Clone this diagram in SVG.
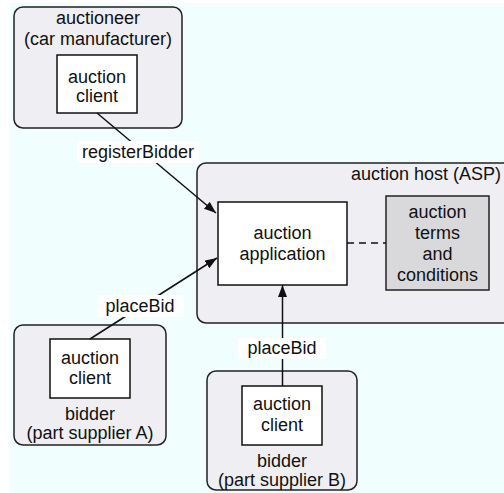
<svg xmlns="http://www.w3.org/2000/svg" width="504" height="493" viewBox="0 0 504 493">
<defs>
<style>
.outer{fill:#efeff3;stroke:#222;stroke-width:1.5}
.inner{fill:#fff;stroke:#111;stroke-width:1.5}
.terms{fill:#d9d9db;stroke:#222;stroke-width:1.5}
text{font-family:"Liberation Sans",Arial,sans-serif;font-size:18px;fill:#111;text-anchor:middle}
.conn{stroke:#111;stroke-width:1.5;fill:none}
.lbl{fill:#fff;stroke:none}
</style>
<marker id="arr" markerUnits="userSpaceOnUse" markerWidth="13" markerHeight="10" refX="12" refY="4.5" orient="auto">
<path d="M0,0 L12,4.5 L0,9 z" fill="#111"/>
</marker>
</defs>
<rect x="10" y="3" width="494" height="490" fill="#f0fefe"/>

<g id="auctioneer">
<rect class="outer" x="14" y="7" width="168" height="121" rx="9"/>
<text x="98" y="24">auctioneer</text>
<text x="98" y="45">(car manufacturer)</text>
<rect class="inner" x="57" y="55" width="80" height="58"/>
<text x="97" y="83">auction</text>
<text x="97" y="102">client</text>
</g>

<g id="host">
<rect class="outer" x="197" y="163" width="330" height="160" rx="9"/>
<text x="501" y="180" style="text-anchor:end">auction host (ASP)</text>
</g>

<g id="application">
<rect class="inner" x="218" y="202" width="129" height="83"/>
<text x="282.5" y="239">auction</text>
<text x="282.5" y="260">application</text>
</g>

<g id="terms">
<rect class="terms" x="386" y="196" width="103" height="94"/>
<text x="437.5" y="218">auction</text>
<text x="437.5" y="239">terms</text>
<text x="437.5" y="260">and</text>
<text x="437.5" y="281">conditions</text>
</g>

<g id="bidderA">
<rect class="outer" x="14" y="325" width="152" height="120" rx="9"/>
<rect class="inner" x="50" y="339" width="80" height="59"/>
<text x="90" y="364">auction</text>
<text x="90" y="384">client</text>
<text x="90" y="420">bidder</text>
<text x="90" y="439">(part supplier A)</text>
</g>

<g id="bidderB">
<rect class="outer" x="207" y="371" width="150" height="119" rx="9"/>
<rect class="inner" x="242" y="386" width="80" height="59"/>
<text x="282" y="410">auction</text>
<text x="282" y="431">client</text>
<text x="282" y="467">bidder</text>
<text x="282" y="486">(part supplier B)</text>
</g>

<g id="connectors">
<line class="conn" x1="97" y1="113" x2="216" y2="213" marker-end="url(#arr)"/>
<line class="conn" x1="90" y1="339" x2="217" y2="258" marker-end="url(#arr)"/>
<line class="conn" x1="282.5" y1="386" x2="282.5" y2="285" marker-end="url(#arr)"/>
<line class="conn" x1="347" y1="243" x2="386" y2="243" stroke-dasharray="7,5"/>
<rect class="lbl" x="77" y="141" width="122" height="22"/>
<text x="138" y="158">registerBidder</text>
<rect class="lbl" x="97" y="295" width="87" height="22"/>
<text x="140" y="312">placeBid</text>
<rect class="lbl" x="238" y="338" width="88" height="21"/>
<text x="282" y="354">placeBid</text>
</g>
</svg>
